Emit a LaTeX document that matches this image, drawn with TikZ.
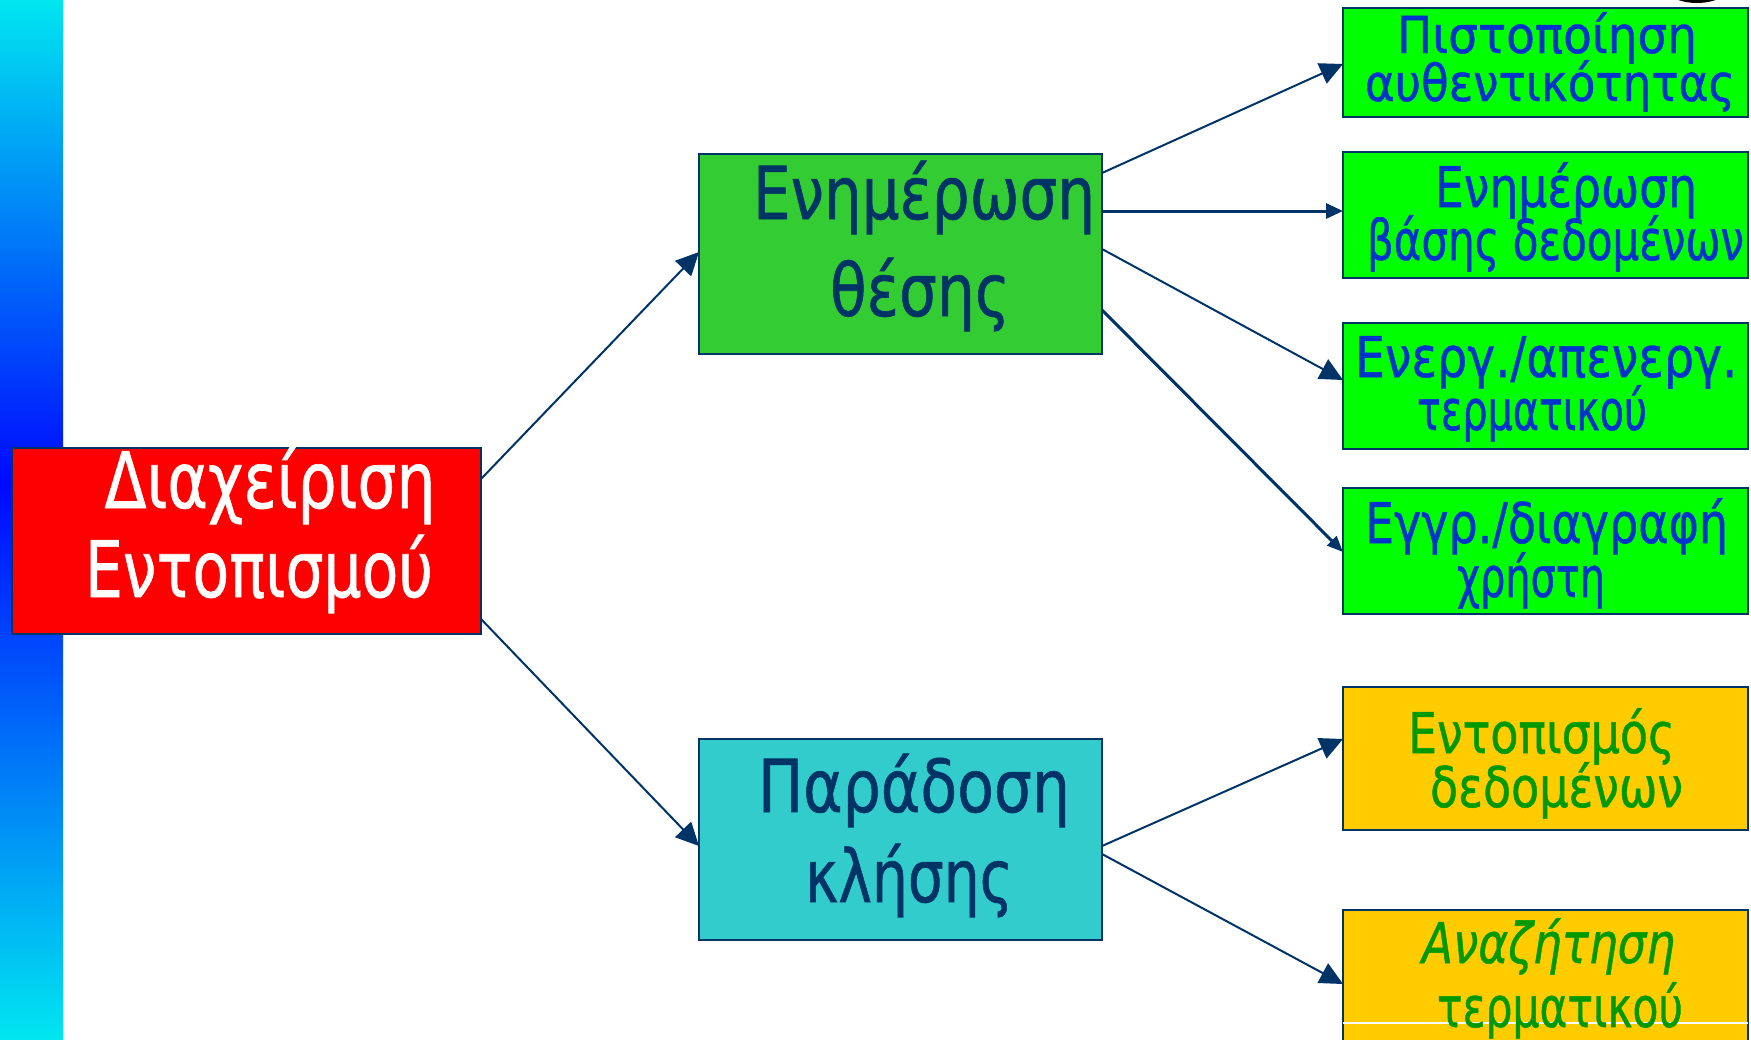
\documentclass[tikz,border=0pt]{standalone}
\usepackage{fontspec}
\setmainfont{DejaVu Sans}[FakeBold=0.9]
\usepackage{graphicx}
\usetikzlibrary{arrows.meta}
\definecolor{navy}{HTML}{003366}
\definecolor{barcyan}{HTML}{00E6F0}
\definecolor{barblue}{HTML}{0008FF}
\definecolor{redbox}{HTML}{FF0000}
\definecolor{midgreen}{HTML}{33CC33}
\definecolor{midcyan}{HTML}{33CCCC}
\definecolor{lightgreen}{HTML}{00FF00}
\definecolor{goldbox}{HTML}{FFCC00}
\definecolor{bluetext}{HTML}{0033CC}
\definecolor{greentext}{HTML}{009900}
\newlength\pxu
\setlength\pxu{0.5pt}
\newcommand\fw[2]{\resizebox{#1\pxu}{\height}{#2}}
\newcommand\fsred{\fontsize{39}{44}\selectfont}
\newcommand\fsmid{\fontsize{36.5}{42}\selectfont}
\newcommand\fsright{\fontsize{28}{32}\selectfont}
\newcommand\fstight{\fontsize{25.5}{30}\selectfont}
\tikzset{
  box/.style={draw=navy, line width=1pt, inner sep=0pt, outer sep=0pt},
  rightbox/.style={box, minimum width=202.5pt},
  txt/.style={inner sep=0pt, outer sep=0pt, anchor=base},
  redtxt/.style={txt, text=white, font=\fsred},
  midtxt/.style={txt, text=navy, font=\fsmid},
  bluetxt/.style={txt, text=bluetext, font=\fsright},
  goldtxt/.style={txt, text=greentext, font=\fsright},
  conn/.style={draw=navy, line width=1pt, -{Triangle[length=11.5pt,width=11pt]}},
  connthick/.style={draw=navy, line width=1.5pt, -{Triangle[length=8.5pt,width=7.5pt]}}
}
\begin{document}
\begin{tikzpicture}[x=0.5pt,y=-0.5pt]
\useasboundingbox (0,0) rectangle (1751,1039);
% left gradient bar
\shade[top color=barblue, bottom color=barcyan] (0,484) rectangle (63,1039);
\shade[top color=barcyan, bottom color=barblue] (0,0) rectangle (63,485);
% black shape at top right
\fill[black] (1697,-18) ellipse [x radius=36, y radius=21];
% boxes
\node[box, fill=redbox, minimum width=234.5pt, minimum height=93pt] (root) at (246.5,541) {};
\node[box, fill=midgreen, minimum width=201.5pt, minimum height=100pt] (upd) at (900.5,254) {};
\node[box, fill=midcyan, minimum width=201.5pt, minimum height=100.5pt] (call) at (900.5,839.5) {};
\node[rightbox, fill=lightgreen, minimum height=54.5pt] (b1) at (1545.5,62.5) {};
\node[rightbox, fill=lightgreen, minimum height=63pt] (b2) at (1545.5,215) {};
\node[rightbox, fill=lightgreen, minimum height=63pt] (b3) at (1545.5,386) {};
\node[rightbox, fill=lightgreen, minimum height=63pt] (b4) at (1545.5,551) {};
\node[rightbox, fill=goldbox, minimum height=71.5pt] (b5) at (1545.5,758.5) {};
\node[rightbox, fill=goldbox, minimum height=70pt] (b6) at (1545.5,980) {};
\draw[white, line width=0.7pt] (b6.west |- 0,1023) -- (b6.east |- 0,1023);
% texts
\node[redtxt] (t0a) at (270,508) {\fw{331}{Διαχείριση}};
\node[redtxt] (t0b) at (259,597) {\fw{348}{Εντοπισμού}};
\node[midtxt] (t1a) at (924,219) {\fw{342}{Ενημέρωση}};
\node[midtxt] (t1b) at (920,316) {\fw{180}{θέσης}};
\node[midtxt] (t2a) at (914,812) {\fw{312}{Παράδοση}};
\node[midtxt] (t2b) at (909,902) {\fw{208}{κλήσης}};
\node[bluetxt, font=\fstight] (t3a) at (1547,53) {\fw{300}{Πιστοποίηση}};
\node[bluetxt, font=\fstight] (t3b) at (1550,101) {\fw{370}{αυθεντικότητας}};
\node[bluetxt] (t4a) at (1566,207) {\fw{262}{Ενημέρωση}};
\node[bluetxt] (t4b) at (1555.5,260) {\fw{377}{βάσης δεδομένων}};
\node[bluetxt] (t5a) at (1546,377) {\fw{382}{Ενεργ./απενεργ.}};
\node[bluetxt] (t5b) at (1532,430) {\fw{230}{τερματικού}};
\node[bluetxt] (t6a) at (1546.5,543) {\fw{363}{Εγγρ./διαγραφή}};
\node[bluetxt] (t6b) at (1531,597) {\fw{148}{χρήστη}};
\node[goldtxt] (t7a) at (1541.5,753) {\fw{267}{Εντοπισμός}};
\node[goldtxt] (t7b) at (1556.5,807) {\fw{253}{δεδομένων}};
\node[goldtxt] (t8a) at (1548.5,963) {\fw{253}{\itshape Αναζήτηση}};
\node[goldtxt] (t8b) at (1560,1027) {\fw{246}{τερματικού}};
% connectors
\draw[conn] (root.east |- 0,479) -- (upd.west |- 0,252);
\draw[conn] (root.east |- 0,619) -- (call.west |- 0,846);
\draw[conn] (upd.east |- 0,173) -- (b1.west |- 0,64);
\draw[connthick] (upd.east |- 0,211) -- (b2.west |- 0,211);
\draw[conn] (upd.east |- 0,249) -- (b3.west |- 0,380);
\draw[connthick, -{Triangle[length=8pt,width=6.5pt]}] (upd.east |- 0,310) -- (b4.west |- 0,552);
\draw[conn] (call.east |- 0,846) -- (b5.west |- 0,739);
\draw[conn] (call.east |- 0,854) -- (b6.west |- 0,984);
\end{tikzpicture}
\end{document}
